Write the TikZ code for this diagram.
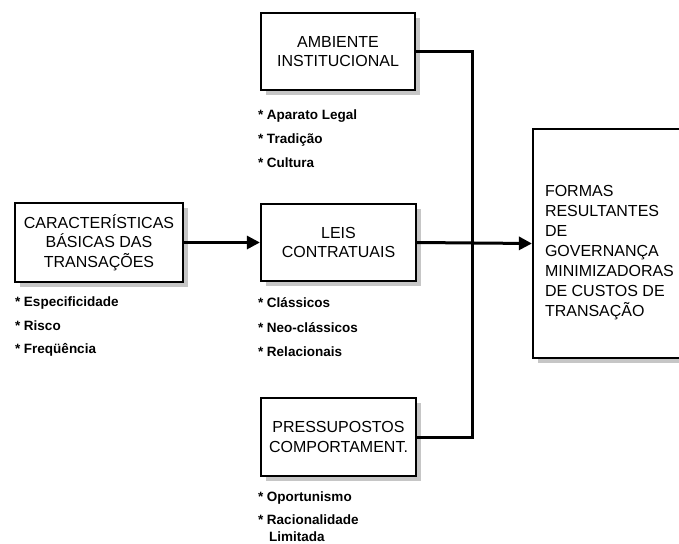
\documentclass[tikz,border=0pt]{standalone}
\usepackage{fontspec}
\setmainfont{Liberation Sans}
\usetikzlibrary{arrows.meta}

\begin{document}
\begin{tikzpicture}[x=1pt,y=-1pt,line cap=rect,
    caixa/.style={draw=black, line width=2.2pt, fill=white, inner sep=0pt, align=center,
      font=\fontsize{16pt}{19.5pt}\selectfont},
    sombra/.style={fill=gray!45, draw=none},
    item/.style={inner sep=0, outer sep=0, anchor=base west, font=\bfseries\fontsize{13.5pt}{15pt}\selectfont},
    liga/.style={line width=3pt, line cap=butt},
    seta/.style={line width=3pt, line cap=butt, -{Triangle[length=13pt,width=13pt]}}]
					\useasboundingbox (0,0) rectangle (679,543);
					% sombras
					\fill[sombra] (20.0,208.0) rectangle (188.0,287.0);
					\fill[sombra] (266.0,18.0) rectangle (420.0,95.0);
					\fill[sombra] (266.0,209.0) rectangle (421.0,286.0);
					\fill[sombra] (266.0,403.0) rectangle (421.0,481.0);
					\fill[sombra] (538.0,134.0) rectangle (700.0,363.0);
					% caixas
					\node[caixa, minimum width=168, minimum height=79] (caract) at (99.0,242.5) {CARACTERÍSTICAS\\BÁSICAS DAS\\TRANSAÇÕES};
					\node[caixa, minimum width=154, minimum height=77] (ambiente) at (338.0,51.5) {AMBIENTE\\INSTITUCIONAL};
					\node[caixa, minimum width=155, minimum height=77] (leis) at (338.5,242.5) {LEIS\\CONTRATUAIS};
					\node[caixa, minimum width=155, minimum height=78] (pressup) at (338.5,437.0) {PRESSUPOSTOS\\COMPORTAMENT.};
					\node[caixa, minimum width=170, minimum height=229] (formas) at (618.0,243.5) {};
					\node[inner sep=0, outer sep=0, anchor=west, align=left, font=\fontsize{16pt}{20pt}\selectfont] (formastxt) at (545.0,252.5) {FORMAS\\RESULTANTES\\DE\\GOVERNANÇA\\MINIMIZADORAS\\DE CUSTOS DE\\TRANSAÇÃO};
					% itens
					\node[item] (especif) at (15.0,306.0) {* Especificidade};
					\node[item] (risco) at (15.0,330.0) {* Risco};
					\node[item] (freq) at (15.0,353.0) {* Freqüência};
					\node[item] (aparato) at (258.0,119.0) {* Aparato Legal};
					\node[item] (tradicao) at (258.0,143.0) {* Tradição};
					\node[item] (cultura) at (258.0,167.0) {* Cultura};
					\node[item] (classicos) at (258.0,307.0) {* Clássicos};
					\node[item] (neoclass) at (258.0,332.0) {* Neo-clássicos};
					\node[item] (relac) at (258.0,356.0) {* Relacionais};
					\node[item] (oportun) at (258.0,501.0) {* Oportunismo};
					\node[item] (racional) at (258.0,524.0) {* Racionalidade};
					\node[item] (limitada) at (269.0,541.0) {Limitada};
					% ligacoes
					\coordinate (bus) at (472.0,242.5);
					\draw[seta] (caract.east) -- (leis.west);
					\draw[liga] (ambiente.east) -| (bus) |- (pressup.east);
					\draw[seta] (leis.east) -- (formas.west);
				\end{tikzpicture}
\end{document}
